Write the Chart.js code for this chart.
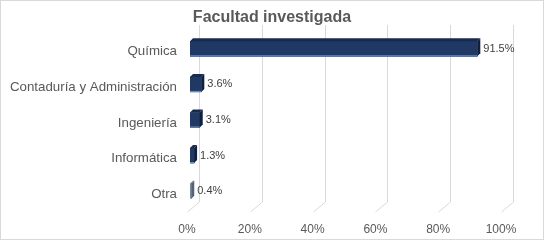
<!DOCTYPE html>
<html>
<head>
<meta charset="utf-8">
<script src="https://cdn.jsdelivr.net/npm/chart.js@4"></script>
<style>
body { margin: 0; background: #fff; }
#box { position: absolute; left: 0; top: 0; width: 544px; height: 240px; border: 1px solid #d9d9d9; box-sizing: border-box; }
</style>
</head>
<body>
<div id="box"><canvas id="chart" width="542" height="238"></canvas></div>
<script>
// Data
const titleText = 'Facultad investigada';
const categories = ['Química', 'Contaduría y Administración', 'Ingeniería', 'Informática', 'Otra'];
const values = [91.5, 3.6, 3.1, 1.3, 0.4];
const xMin = 0, xMax = 100, xStep = 20;

// Styles
const FONT = '"Liberation Sans", Arial, sans-serif';
const fronts = ['#1f3864', '#1f3864', '#1f3864', '#1f3864', '#7b879c'];
const tops = ['#172a50', '#172a50', '#172a50', '#172a50', '#687488'];
const sides = ['#111f3d', '#111f3d', '#111f3d', '#111f3d', '#566175'];
const edges = ['#7f92b5', '#7f92b5', '#7f92b5', '#7f92b5', '#aab3c3'];
const DEPTH = 3;        // bar depth
const SHIFT_X = 3, SHIFT_Y = 3; // bars sit a bit off the category centre
const GX = 12, GY = 10; // back wall offset for grid lines

// Fake 3D look: back gridlines, bar top/side faces, value labels, centred title
const bar3d = {
    id: 'bar3d',
    beforeDatasetsDraw(chart) {
        const ctx = chart.ctx;
        const xs = chart.scales.x;
        const area = chart.chartArea;
        ctx.save();
        ctx.fillStyle = '#595959';
        ctx.font = 'bold 16px ' + FONT;
        ctx.textAlign = 'center';
        ctx.textBaseline = 'middle';
        ctx.fillText(titleText, chart.width / 2, 17);
        ctx.strokeStyle = '#d9d9d9';
        ctx.lineWidth = 1;
        xs.ticks.forEach(t => {
            const x = Math.round(xs.getPixelForValue(t.value)) + 0.5;
            ctx.beginPath();
            ctx.moveTo(x + GX, area.top - 9);
            ctx.lineTo(x + GX, area.bottom - GY);
            ctx.lineTo(x, area.bottom);
            ctx.stroke();
        });
        ctx.restore();
        ctx.save();
        ctx.translate(SHIFT_X, -SHIFT_Y);
    },
    afterDatasetsDraw(chart) {
        const ctx = chart.ctx;
        ctx.restore();
        const meta = chart.getDatasetMeta(0);
        ctx.save();
        ctx.translate(SHIFT_X, -SHIFT_Y);
        meta.data.forEach((bar, i) => {
            const p = bar.getProps(['x', 'y', 'base', 'height'], true);
            const top = p.y - p.height / 2;
            const bot = p.y + p.height / 2;
            // lighter bottom edge
            ctx.fillStyle = edges[i];
            ctx.fillRect(p.base, bot - 1, p.x - p.base, 1);
            // top face
            ctx.fillStyle = tops[i];
            ctx.beginPath();
            ctx.moveTo(p.base, top);
            ctx.lineTo(p.base + DEPTH, top - DEPTH);
            ctx.lineTo(p.x + DEPTH, top - DEPTH);
            ctx.lineTo(p.x, top);
            ctx.closePath();
            ctx.fill();
            // side face
            ctx.fillStyle = sides[i];
            ctx.beginPath();
            ctx.moveTo(p.x, top);
            ctx.lineTo(p.x + DEPTH, top - DEPTH);
            ctx.lineTo(p.x + DEPTH, bot - DEPTH);
            ctx.lineTo(p.x, bot);
            ctx.closePath();
            ctx.fill();
            // value label
            ctx.fillStyle = '#404040';
            ctx.font = '11px ' + FONT;
            ctx.textBaseline = 'middle';
            ctx.textAlign = 'left';
            ctx.fillText(values[i].toFixed(1) + '%', p.x + DEPTH + 3, p.y);
        });
        ctx.restore();
    }
};

new Chart(document.getElementById('chart'), {
    type: 'bar',
    data: {
        labels: categories,
        datasets: [{
            data: values,
            backgroundColor: fronts,
            borderWidth: 0,
            barThickness: 15
        }]
    },
    options: {
        indexAxis: 'y',
        responsive: false,
        animation: false,
        layout: { padding: { left: 0, right: 42, top: 33, bottom: 0 } },
        plugins: {
            legend: { display: false },
            tooltip: { enabled: false },
            title: { display: false }
        },
        scales: {
            x: {
                min: xMin, max: xMax,
                grid: { display: false, drawTicks: false },
                border: { display: false },
                ticks: {
                    stepSize: xStep,
                    padding: 10,
                    color: '#595959',
                    font: { family: FONT, size: 12 },
                    callback: v => v + '%'
                },
                afterFit: s => { s.height = 27; }
            },
            y: {
                grid: { display: false, drawTicks: false },
                border: { display: false },
                ticks: {
                    padding: 10,
                    color: '#595959',
                    font: { family: FONT, size: 13.3 }
                },
                afterFit: s => { s.width = 186; }
            }
        }
    },
    plugins: [bar3d]
});
</script>
</body>
</html>
